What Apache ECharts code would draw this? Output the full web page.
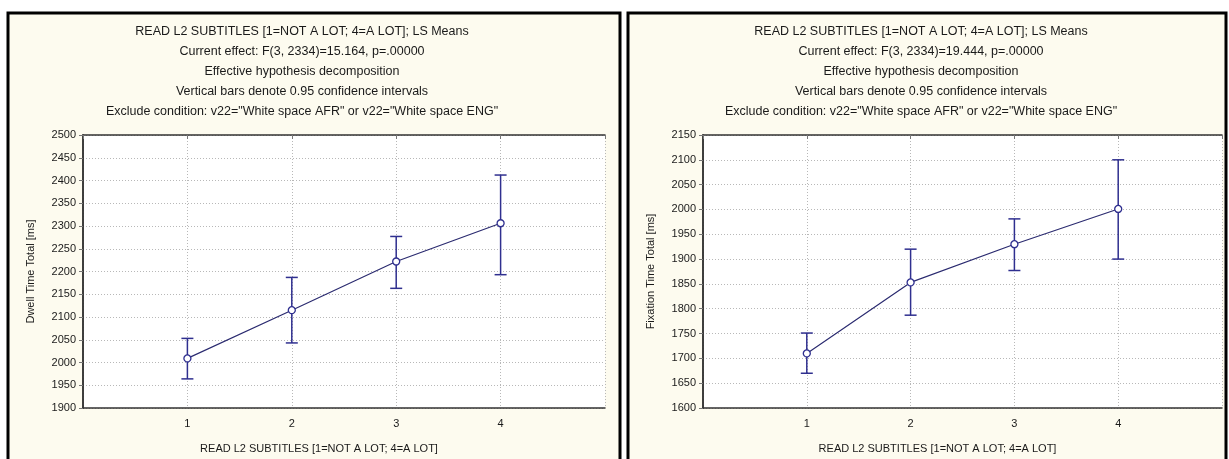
<!DOCTYPE html>
<html>
<head>
<meta charset="utf-8">
<script src="https://cdn.jsdelivr.net/npm/echarts@6/dist/echarts.min.js"></script>
<style>
  html, body { margin: 0; padding: 0; background: #fff; }
  #main { width: 1229px; height: 459px; }
</style>
</head>
<body>
<div id="main"></div>
<script>
// data
var levels = [1, 2, 3, 4];
var dwellMean = [2009, 2115, 2222, 2306];
var dwellLow = [1964, 2043, 2163, 2193];
var dwellHigh = [2053, 2187, 2277, 2412];
var fixMean = [1710, 1853, 1930, 2001];
var fixLow = [1670, 1787, 1877, 1900];
var fixHigh = [1751, 1920, 1981, 2100];

var titleLines = [
  "READ L2 SUBTITLES [1=NOT A LOT; 4=A LOT]; LS Means",
  null,
  "Effective hypothesis decomposition",
  "Vertical bars denote 0.95 confidence intervals",
  'Exclude condition: v22="White space AFR" or v22="White space ENG"'
];
var effects = ["Current effect: F(3, 2334)=15.164, p=.00000", "Current effect: F(3, 2334)=19.444, p=.00000"];
var xName = "READ L2 SUBTITLES [1=NOT A LOT; 4=A LOT]";

var font = "Liberation Sans";
var navy = "#2f2f8f";

function makeTitle(i, cx) {
  var lines = titleLines.slice();
  lines[1] = effects[i];
  return {
    text: lines.join("\n"),
    left: cx, top: 22, textAlign: "center", padding: 0,
    textStyle: { fontFamily: font, fontSize: 12.5, fontWeight: "normal", color: "#1a1a1a", lineHeight: 20 }
  };
}

function pairs(ys) {
  return levels.map(function (x, i) { return [x, ys[i]]; });
}
function bars(lo, hi) {
  return levels.map(function (x, i) { return [x, lo[i], hi[i]]; });
}

function errRender(params, api) {
  var x = api.value(0);
  var a = api.coord([x, api.value(1)]);
  var b = api.coord([x, api.value(2)]);
  var w = 6;
  var st = { stroke: navy, lineWidth: 1.5 };
  return {
    type: "group",
    children: [
      { type: "line", shape: { x1: a[0], y1: a[1], x2: b[0], y2: b[1] }, style: st },
      { type: "line", shape: { x1: a[0] - w, y1: a[1], x2: a[0] + w, y2: a[1] }, style: st },
      { type: "line", shape: { x1: b[0] - w, y1: b[1], x2: b[0] + w, y2: b[1] }, style: st }
    ]
  };
}

var axisText = { fontFamily: font, fontSize: 11, color: "#1a1a1a" };
var dotted = { show: true, lineStyle: { color: "#b8b8b8", type: [1, 2], width: 1 } };

function xAxes(g) {
  return [
    {
      type: "value", gridIndex: g, min: 0, max: 5, interval: 1,
      axisLine: { lineStyle: { color: "#333", width: 1.5 } },
      axisTick: { show: false },
      axisLabel: Object.assign({ margin: 10, formatter: function (v) { return v >= 1 && v <= 4 ? String(v) : ""; } }, axisText),
      splitLine: dotted,
      name: xName, nameLocation: "middle", nameGap: 35,
      nameTextStyle: { fontFamily: font, fontSize: 11, color: "#1a1a1a", padding: [0, 50, 0, 0] }
    },
    {
      type: "value", gridIndex: g, position: "top", min: 0, max: 5, interval: 1,
      axisLine: { show: true, lineStyle: { color: "#333", width: 1.5 } },
      axisTick: { show: true, inside: true, length: 4, lineStyle: { color: "#777" } },
      axisLabel: { show: false }, splitLine: { show: false }
    }
  ];
}

function yAxes(g, min, max, name) {
  return [
    {
      type: "value", gridIndex: g, min: min, max: max, interval: 50,
      axisLine: { show: true, lineStyle: { color: "#333", width: 1.5 } },
      axisTick: { show: true, length: 4, lineStyle: { color: "#777" } },
      axisLabel: Object.assign({ margin: 7, formatter: function (v) { return String(v); } }, axisText),
      splitLine: dotted,
      name: name, nameLocation: "middle", nameGap: 47,
      nameTextStyle: { fontFamily: font, fontSize: 11, color: "#1a1a1a" }
    },
    {
      type: "value", gridIndex: g, position: "right", min: min, max: max, interval: 50,
      axisLine: { show: true, lineStyle: { color: "#333", width: 1.5 } },
      axisTick: { show: true, inside: true, length: 4, lineStyle: { color: "#777" } },
      axisLabel: { show: false }, splitLine: { show: false }
    }
  ];
}

function meanSeries(xi, yi, data) {
  return {
    type: "line", xAxisIndex: xi, yAxisIndex: yi, data: data, z: 4,
    symbol: "circle", symbolSize: 7,
    lineStyle: { color: "#2b2b70", width: 1.2 },
    itemStyle: { color: "#fff", borderColor: navy, borderWidth: 1.3 }
  };
}
function errSeries(xi, yi, data) {
  return { type: "custom", xAxisIndex: xi, yAxisIndex: yi, data: data, renderItem: errRender, z: 3 };
}

var chart = echarts.init(document.getElementById("main"));
chart.setOption({
  backgroundColor: "#ffffff",
  animation: false,
  graphic: [
    { type: "rect", shape: { x: 8, y: 13, width: 612, height: 460 }, style: { fill: "#fdfbef", stroke: "#000", lineWidth: 3 }, z: -10 },
    { type: "rect", shape: { x: 628, y: 13, width: 598, height: 460 }, style: { fill: "#fdfbef", stroke: "#000", lineWidth: 3 }, z: -10 }
  ],
  title: [makeTitle(0, 302), makeTitle(1, 921)],
  grid: [
    { left: 83, top: 135, width: 522, height: 274, show: true, backgroundColor: "#fff", borderWidth: 0 },
    { left: 703, top: 135, width: 519, height: 274, show: true, backgroundColor: "#fff", borderWidth: 0 }
  ],
  xAxis: xAxes(0).concat(xAxes(1)),
  yAxis: yAxes(0, 1900, 2500, "Dwell Time Total [ms]").concat(yAxes(1, 1600, 2150, "Fixation Time Total [ms]")),
  series: [
    errSeries(0, 0, bars(dwellLow, dwellHigh)),
    meanSeries(0, 0, pairs(dwellMean)),
    errSeries(2, 2, bars(fixLow, fixHigh)),
    meanSeries(2, 2, pairs(fixMean))
  ]
});
</script>
</body>
</html>
